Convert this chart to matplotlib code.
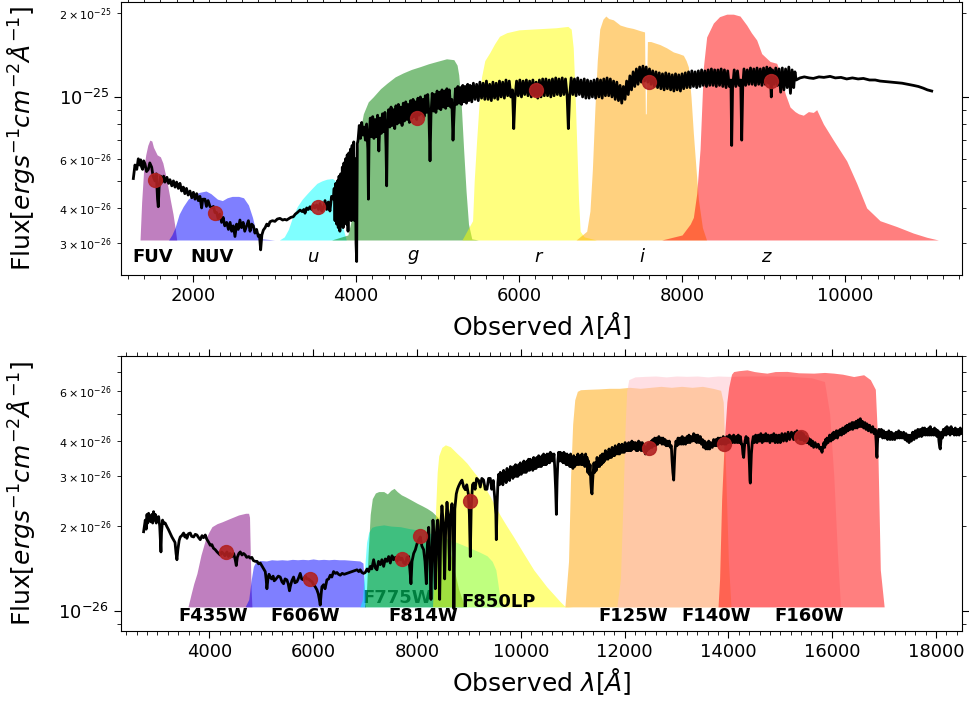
import matplotlib
matplotlib.use('Agg')
import matplotlib.pyplot as plt
from matplotlib.ticker import MultipleLocator, AutoMinorLocator
import numpy as np

# all fluxes in units of 1e-26 erg/s/cm^2/A
UNIT = 1e-26

# ---------------- top panel: GALEX + SDSS ----------------
top_spec_wave = [
    1268, 1288, 1310, 1329, 1345, 1358, 1370, 1382, 1395, 1411, 1430, 1452, 1470, 1493, 1510, 1533,
    1550, 1565, 1574, 1585, 1603, 1620, 1640, 1656, 1680, 1700, 1717, 1740, 1760, 1780, 1799, 1820,
    1840, 1860, 1881, 1900, 1920, 1940, 1963, 1985, 2005, 2025, 2045, 2065, 2085, 2106, 2120, 2147,
    2165, 2185, 2208, 2230, 2250, 2270, 2290, 2310, 2330, 2351, 2370, 2390, 2413, 2435, 2455, 2475,
    2495, 2515, 2535, 2555, 2576, 2595, 2615, 2635, 2658, 2680, 2700, 2720, 2740, 2760, 2780, 2801,
    2815, 2830, 2845, 2863, 2885, 2905, 2925, 2945, 2975, 3005, 3035, 3067, 3100, 3125, 3149, 3175,
    3200, 3231, 3255, 3280, 3313, 3340, 3360, 3374, 3395, 3415, 3435, 3455, 3475, 3495, 3517, 3540,
    3560, 3580, 3599, 3620, 3640, 3660, 3680, 3700, 3722, 3732, 3742, 3752, 3762, 3772, 3782, 3792,
    3802, 3812, 3822, 3832, 3842, 3852, 3862, 3872, 3882, 3892, 3902, 3912, 3922, 3932, 3942, 3952,
    3962, 3972, 3982, 3992, 4000, 4008, 4016, 4025, 4040, 4055, 4070, 4085, 4100, 4115, 4130, 4145,
    4152, 4160, 4175, 4190, 4205, 4220, 4235, 4250, 4265, 4280, 4295, 4310, 4325, 4340, 4355, 4368,
    4376, 4385, 4400, 4415, 4430, 4445, 4460, 4475, 4490, 4505, 4520, 4535, 4550, 4565, 4580, 4595,
    4610, 4625, 4640, 4655, 4670, 4685, 4700, 4715, 4730, 4745, 4760, 4775, 4790, 4805, 4820, 4835,
    4850, 4865, 4880, 4895, 4908, 4920, 4935, 4950, 4965, 4980, 4995, 5010, 5025, 5040, 5055, 5070,
    5085, 5100, 5115, 5130, 5145, 5160, 5175, 5190, 5205, 5220, 5235, 5250, 5265, 5280, 5295, 5310,
    5325, 5340, 5355, 5370, 5385, 5400, 5420, 5440, 5460, 5480, 5500, 5520, 5540, 5560, 5580, 5600,
    5620, 5640, 5660, 5680, 5700, 5720, 5740, 5760, 5780, 5800, 5820, 5840, 5860, 5880, 5900, 5920,
    5935, 5950, 5970, 5990, 6010, 6030, 6050, 6070, 6090, 6110, 6130, 6150, 6170, 6190, 6210, 6230,
    6250, 6270, 6290, 6310, 6330, 6350, 6370, 6390, 6410, 6430, 6450, 6470, 6490, 6510, 6530, 6550,
    6570, 6590, 6605, 6620, 6640, 6660, 6680, 6700, 6720, 6740, 6760, 6780, 6800, 6820, 6840, 6860,
    6880, 6900, 6920, 6940, 6960, 6980, 7000, 7020, 7040, 7060, 7080, 7100, 7120, 7140, 7160, 7180,
    7200, 7220, 7240, 7260, 7280, 7300, 7320, 7340, 7360, 7380, 7400, 7420, 7440, 7460, 7480, 7500,
    7520, 7540, 7560, 7580, 7600, 7620, 7640, 7660, 7680, 7700, 7720, 7740, 7760, 7780, 7800, 7820,
    7840, 7860, 7880, 7900, 7920, 7940, 7960, 7980, 8000, 8020, 8040, 8060, 8080, 8100, 8120, 8140,
    8160, 8180, 8200, 8220, 8240, 8260, 8280, 8300, 8320, 8340, 8360, 8380, 8400, 8420, 8440, 8460,
    8480, 8500, 8520, 8540, 8560, 8580, 8600, 8609, 8620, 8640, 8660, 8680, 8700, 8720, 8732, 8745,
    8760, 8780, 8800, 8820, 8840, 8860, 8880, 8900, 8920, 8940, 8960, 8980, 9000, 9020, 9040, 9060,
    9080, 9095, 9110, 9130, 9150, 9170, 9190, 9210, 9230, 9250, 9270, 9290, 9310, 9330, 9350, 9370,
    9385, 9400, 9447, 9500, 9560, 9611, 9680, 9740, 9816, 9880, 9950, 10020, 10090, 10160, 10225,
    10300, 10370, 10429, 10500, 10570, 10634, 10700, 10770, 10838, 10900, 10960, 11010, 11063,
]
top_spec_flux = [
    5.1, 5.7, 5.5, 6.0, 5.7, 5.95, 5.6, 5.5, 5.9, 5.75, 5.4, 5.5, 5.8, 5.6, 5.2, 5.0,
    5.3, 4.3, 4.04, 4.8, 5.2, 4.95, 5.2, 4.95, 5.15, 4.9, 5.05, 4.8, 5.0, 4.75, 4.95, 4.7,
    4.9, 4.6, 4.75, 4.5, 4.7, 4.45, 4.6, 4.35, 4.55, 4.3, 4.5, 4.25, 4.4, 4.0, 4.3, 4.3,
    4.05, 4.25, 4.05, 4.0, 4.05, 3.85, 3.85, 3.65, 3.8, 3.55, 3.7, 3.45, 3.55, 3.35, 3.55, 3.3,
    3.45, 3.16, 3.5, 3.35, 3.62, 3.4, 3.55, 3.3, 3.45, 3.6, 3.3, 3.5, 3.45, 3.25, 3.35, 3.16,
    3.2, 2.83, 3.2, 3.33, 3.4, 3.5, 3.45, 3.57, 3.6, 3.58, 3.65, 3.67, 3.62, 3.64, 3.62, 3.66,
    3.7, 3.72, 3.8, 3.85, 3.93, 3.88, 3.95, 3.83, 4.0, 3.95, 4.04, 3.95, 4.1, 4.0, 4.1, 3.95,
    4.15, 3.9, 4.0, 4.25, 3.95, 4.2, 3.9, 4.4, 4.3, 4.7, 3.6, 4.9, 3.5, 5.0, 3.4, 5.2,
    3.3, 5.3, 3.5, 5.6, 3.4, 5.8, 3.7, 6.0, 3.5, 6.2, 3.3, 6.3, 3.9, 6.5, 3.6, 6.7,
    4.2, 6.9, 3.6, 6.0, 3.0, 2.57, 6.8, 7.0, 7.9, 7.1, 8.1, 7.3, 7.8, 7.0, 8.0, 6.5,
    4.3, 7.0, 8.4, 7.2, 8.5, 7.1, 8.3, 7.2, 8.6, 6.4, 8.4, 7.4, 8.7, 7.5, 8.8, 6.6,
    4.8, 7.7, 9.0, 7.8, 9.2, 7.9, 9.0, 7.7, 9.3, 8.0, 9.4, 8.1, 9.2, 7.9, 9.5, 8.2,
    9.6, 8.3, 9.4, 8.1, 9.7, 8.4, 9.8, 8.5, 9.6, 8.3, 9.9, 8.6, 10.0, 8.7, 9.8, 8.5,
    10.1, 8.8, 10.2, 8.6, 5.9, 8.7, 10.3, 8.9, 10.2, 8.8, 10.5, 9.1, 10.4, 9.0, 10.6, 9.2,
    10.5, 9.1, 10.7, 9.3, 10.6, 9.2, 9.8, 7.0, 9.0, 10.7, 9.4, 10.9, 9.5, 10.8, 9.4, 11.0,
    9.6, 10.9, 9.5, 11.1, 9.7, 11.0, 9.6, 11.2, 9.8, 11.1, 9.7, 11.3, 9.9, 11.2, 9.8, 11.4,
    9.8, 11.1, 9.7, 11.3, 9.9, 11.2, 9.8, 11.4, 10.0, 11.3, 9.9, 11.5, 10.1, 11.4, 10.0, 10.6,
    7.7, 9.9, 11.4, 10.1, 11.5, 10.0, 11.4, 10.2, 11.5, 10.1, 11.4, 10.0, 11.5, 10.1, 11.3, 9.9,
    11.5, 10.0, 11.6, 10.1, 11.6, 10.1, 11.5, 10.0, 11.6, 10.1, 11.7, 10.2, 11.6, 10.1, 11.7, 10.2,
    11.6, 10.1, 7.7, 10.0, 11.7, 10.2, 11.6, 10.1, 11.7, 10.2, 11.5, 10.0, 11.6, 9.9, 11.5, 9.9,
    11.4, 10.0, 11.5, 9.9, 11.6, 10.0, 11.5, 9.9, 11.6, 10.1, 11.7, 10.1, 11.6, 10.0, 11.4, 9.8,
    11.3, 9.7, 11.0, 9.5, 10.9, 9.8, 11.4, 10.2, 11.9, 10.6, 12.3, 10.9, 12.6, 11.1, 12.8, 11.3,
    12.9, 11.4, 12.8, 11.3, 12.6, 11.1, 12.4, 10.9, 12.3, 10.8, 12.2, 10.7, 12.1, 10.6, 12.2, 10.7,
    12.1, 10.6, 12.0, 10.5, 12.1, 10.6, 12.0, 10.5, 12.1, 10.7, 12.2, 10.8, 12.3, 10.8, 12.4, 10.9,
    12.3, 10.8, 12.4, 10.9, 12.5, 11.0, 12.4, 10.9, 12.5, 11.0, 12.6, 11.0, 12.5, 10.9, 12.5, 11.0,
    12.6, 10.9, 12.5, 10.8, 12.4, 10.9, 11.5, 6.7, 10.8, 12.5, 10.9, 12.4, 11.0, 11.5, 7.0, 11.0,
    12.6, 11.0, 12.5, 11.1, 12.7, 11.1, 12.6, 11.0, 12.7, 11.1, 12.6, 11.0, 12.7, 11.1, 12.8, 11.2,
    12.7, 10.0, 12.5, 11.1, 12.7, 11.0, 12.6, 10.4, 12.7, 10.6, 12.6, 10.8, 12.8, 10.3, 12.5, 10.8,
    12.3, 11.5, 11.7, 11.8, 11.7, 11.65, 11.8, 11.75, 11.85, 11.7, 11.75, 11.6, 11.7, 11.6, 11.65,
    11.5, 11.5, 11.4, 11.35, 11.3, 11.25, 11.2, 11.1, 11.0, 10.9, 10.75, 10.6, 10.5,
]

fuv_wave = [1350, 1370, 1395, 1420, 1445, 1470, 1495, 1515, 1560, 1600, 1630, 1660, 1690, 1720, 1755, 1780, 1800]
fuv_flux = [3.07, 4.2, 5.5, 6.2, 6.7, 7.0, 6.95, 6.6, 6.2, 6.1, 5.8, 5.3, 4.8, 4.3, 3.8, 3.4, 3.07]
nuv_wave = [1700, 1740, 1780, 1830, 1880, 1940, 2000, 2080, 2160, 2220, 2300, 2360, 2420, 2480,
            2560, 2620, 2680, 2730, 2770, 2800, 2850, 3000]
nuv_flux = [3.07, 3.2, 3.4, 3.8, 4.05, 4.3, 4.45, 4.55, 4.6, 4.5, 4.3, 4.25, 4.35, 4.4,
            4.4, 4.35, 4.1, 3.7, 3.3, 3.15, 3.1, 3.07]
u_wave = [3060, 3120, 3170, 3220, 3280, 3340, 3400, 3460, 3520, 3580, 3640, 3710, 3750, 3780, 3810, 3840, 3880]
u_flux = [3.07, 3.15, 3.35, 3.7, 4.05, 4.3, 4.5, 4.7, 4.9, 5.0, 5.07, 5.1, 5.0, 4.7, 4.0, 3.4, 3.07]
g_wave = [3700, 3900, 3960, 3990, 4030, 4090, 4150, 4210, 4300, 4380, 4480, 4580, 4680, 4790,
          4890, 4990, 5110, 5200, 5240, 5260, 5290, 5320, 5350, 5380, 5420, 5500]
g_flux = [3.07, 3.2, 3.8, 5.3, 7.0, 8.7, 9.6, 10.0, 10.7, 11.2, 11.8, 12.2, 12.55, 12.85,
          13.15, 13.4, 13.7, 13.6, 13.0, 12.0, 9.5, 6.5, 4.6, 3.5, 3.1, 3.07]
r_wave = [5300, 5430, 5450, 5480, 5510, 5540, 5580, 5640, 5700, 5760, 5850, 6000, 6150, 6300,
          6450, 6600, 6640, 6665, 6690, 6710, 6730, 6750, 6800, 6950]
r_flux = [3.07, 3.6, 5.0, 7.0, 9.5, 11.8, 13.5, 14.4, 15.5, 16.5, 17.0, 17.4, 17.5, 17.6,
          17.7, 17.9, 17.5, 15.0, 9.8, 6.5, 4.3, 3.3, 3.15, 3.07]
i_wave = [6700, 6830, 6870, 6900, 6930, 6960, 6990, 7030, 7065, 7100, 7157, 7240, 7320, 7400,
          7480, 7540, 7550, 7560, 7575, 7615, 7730, 7810, 7893, 7960, 8016, 8050, 8078, 8110,
          8139, 8170, 8200, 8250, 8300]
i_flux = [3.07, 3.3, 3.9, 5.5, 9.0, 13.5, 17.5, 19.0, 19.5, 19.1, 18.9, 18.1, 17.8, 17.6,
          17.3, 17.1, 8.7, 8.7, 15.8, 15.8, 15.4, 15.0, 14.5, 14.3, 14.1, 13.5, 12.8, 10.0,
          7.4, 5.6, 4.3, 3.4, 3.07]
z_wave = [7750, 8000, 8100, 8139, 8180, 8221, 8262, 8302, 8384, 8460, 8548, 8630, 8711, 8793,
          8850, 8916, 8977, 9080, 9161, 9223, 9264, 9325, 9386, 9430, 9488, 9550, 9610, 9652,
          9734, 9857, 10020, 10143, 10265, 10429, 10634, 10838, 11002, 11145]
z_flux = [3.07, 3.2, 3.5, 3.7, 4.5, 6.5, 12.8, 16.4, 18.4, 19.4, 19.8, 19.8, 19.5, 18.1,
          17.0, 16.0, 14.3, 13.4, 13.2, 11.8, 10.3, 9.2, 8.86, 8.7, 8.6, 8.86, 8.8, 9.0,
          8.0, 7.0, 5.9, 4.9, 4.0, 3.6, 3.43, 3.25, 3.14, 3.07]

top_filter_colors = ['purple', 'blue', 'cyan', 'green', 'yellow', 'orange', 'red']
top_label_text = ['FUV', 'NUV', '$u$', '$g$', '$r$', '$i$', '$z$']
top_label_wave = [1509, 2233, 3472, 4699, 6245, 7509, 9043]
top_label_weight = ['bold', 'bold', 'normal', 'normal', 'normal', 'normal', 'normal']
top_phot_wave = [1534, 2270, 3534, 4748, 6209, 7595, 9092]
top_phot_flux = [5.04, 3.84, 4.03, 8.41, 10.6, 11.3, 11.4]

# ---------------- bottom panel: HST ----------------
bot_spec_wave = [
    2735, 2750, 2767, 2785, 2800, 2815, 2831, 2850, 2876, 2895, 2910, 2927, 2945, 2960, 2979, 3000,
    3024, 3045, 3060, 3069, 3080, 3100, 3120, 3150, 3184, 3210, 3248, 3280, 3313, 3340, 3360, 3377,
    3395, 3420, 3441, 3470, 3505, 3530, 3550, 3569, 3600, 3634, 3660, 3698, 3730, 3762, 3795, 3826,
    3860, 3890, 3923, 3950, 3990, 4019, 4050, 4080, 4115, 4150, 4180, 4211, 4240, 4270, 4300, 4340,
    4370, 4400, 4436, 4470, 4500, 4520, 4540, 4570, 4597, 4630, 4660, 4693, 4720, 4760, 4789, 4820,
    4850, 4886, 4920, 4950, 4982, 5010, 5040, 5078, 5095, 5110, 5130, 5150, 5174, 5200, 5230, 5250,
    5271, 5300, 5330, 5367, 5400, 5431, 5460, 5495, 5520, 5545, 5560, 5590, 5624, 5650, 5688, 5720,
    5752, 5780, 5816, 5850, 5880, 5913, 5950, 5980, 6009, 6040, 6073, 6100, 6120, 6137, 6155, 6170,
    6202, 6230, 6266, 6300, 6330, 6360, 6394, 6430, 6460, 6490, 6523, 6560, 6600, 6651, 6700, 6750,
    6800, 6845, 6880, 6908, 6940, 6973, 7004, 7040, 7070, 7102, 7130, 7166, 7200, 7230, 7260, 7295,
    7325, 7359, 7390, 7423, 7455, 7487, 7520, 7551, 7585, 7616, 7650, 7680, 7710, 7745, 7776, 7810,
    7840, 7865, 7885, 7905, 7937, 7970, 8001, 8030, 8065, 8095, 8129, 8155, 8181, 8200, 8226, 8250,
    8271, 8290, 8309, 8330, 8354, 8375, 8399, 8420, 8438, 8460, 8482, 8510, 8534, 8555, 8579, 8605,
    8630, 8650, 8675, 8700, 8712, 8730, 8758, 8780, 8803, 8835, 8868, 8900, 8932, 8960, 8990, 9010,
    9028, 9045, 9070, 9092, 9120, 9150, 9189, 9220, 9250, 9285, 9315, 9349, 9380, 9413, 9440, 9470,
    9500, 9520, 9529, 9545, 9560, 9575, 9590, 9606, 9620, 9639, 9655, 9670, 9685, 9700, 9718, 9736,
    9752, 9770, 9785, 9800, 9815, 9830, 9848, 9864, 9880, 9900, 9915, 9930, 9945, 9960, 9975, 9992,
    10010, 10030, 10045, 10060, 10075, 10090, 10105, 10121, 10135, 10150, 10168, 10185, 10200, 10215,
    10232, 10249, 10265, 10280, 10295, 10310, 10328, 10345, 10360, 10378, 10395, 10410, 10425, 10440,
    10458, 10475, 10490, 10506, 10522, 10540, 10555, 10570, 10586, 10602, 10620, 10640, 10655, 10672,
    10686, 10700, 10715, 10730, 10746, 10763, 10780, 10800, 10815, 10830, 10845, 10860, 10875, 10891,
    10910, 10930, 10945, 10960, 10975, 10990, 11005, 11020, 11040, 11060, 11080, 11100, 11120, 11148,
    11165, 11180, 11200, 11220, 11235, 11250, 11265, 11276, 11290, 11305, 11320, 11335, 11350, 11362,
    11373, 11385, 11395, 11410, 11425, 11437, 11455, 11470, 11485, 11500, 11518, 11533, 11550, 11570,
    11585, 11600, 11615, 11630, 11645, 11662, 11680, 11700, 11715, 11730, 11745, 11760, 11775, 11790,
    11805, 11820, 11840, 11860, 11875, 11890, 11905, 11918, 11935, 11950, 11965, 11980, 11995, 12010,
    12028, 12047, 12062, 12080, 12095, 12110, 12125, 12140, 12158, 12175, 12192, 12210, 12225, 12240,
    12255, 12270, 12285, 12303, 12320, 12340, 12360, 12380, 12400, 12415, 12432, 12450, 12470, 12485,
    12500, 12515, 12530, 12545, 12560, 12580, 12600, 12620, 12640, 12660, 12689, 12705, 12720, 12740,
    12760, 12780, 12800, 12817, 12835, 12860, 12880, 12900, 12915, 12930, 12946, 12958, 12970, 12990,
    13010, 13030, 13050, 13074, 13090, 13110, 13130, 13150, 13175, 13202, 13220, 13240, 13260, 13280,
    13305, 13331, 13350, 13370, 13390, 13410, 13435, 13459, 13480, 13500, 13520, 13540, 13565, 13588,
    13605, 13620, 13640, 13660, 13690, 13716, 13740, 13760, 13780, 13800, 13820, 13844, 13870, 13900,
    13920, 13940, 13955, 13973, 13995, 14020, 14040, 14060, 14080, 14101, 14125, 14150, 14170, 14190,
    14210, 14230, 14250, 14265, 14280, 14294, 14308, 14320, 14340, 14360, 14375, 14390, 14405, 14415,
    14422, 14430, 14442, 14460, 14480, 14500, 14525, 14551, 14575, 14600, 14625, 14650, 14675, 14700,
    14720, 14743, 14770, 14800, 14825, 14850, 14875, 14900, 14925, 14950, 14975, 15000, 15030, 15060,
    15090, 15120, 15150, 15180, 15215, 15257, 15280, 15300, 15320, 15340, 15360, 15385, 15400, 15420,
    15440, 15460, 15490, 15514, 15540, 15560, 15580, 15600, 15620, 15642, 15670, 15700, 15730, 15760,
    15780, 15803, 15820, 15840, 15855, 15870, 15885, 15899, 15920, 15950, 15975, 16000, 16015, 16027,
    16050, 16080, 16100, 16120, 16140, 16156, 16180, 16200, 16225, 16250, 16265, 16284, 16305, 16330,
    16350, 16380, 16395, 16413, 16440, 16460, 16480, 16500, 16520, 16541, 16560, 16580, 16605, 16630,
    16650, 16670, 16695, 16720, 16750, 16780, 16805, 16830, 16845, 16855, 16862, 16870, 16880, 16900,
    16920, 16945, 16970, 16990, 17015, 17040, 17065, 17090, 17115, 17140, 17160, 17183, 17205, 17230,
    17255, 17280, 17300, 17320, 17345, 17375, 17400, 17420, 17440, 17460, 17480, 17504, 17525, 17550,
    17575, 17600, 17625, 17650, 17670, 17696, 17720, 17740, 17760, 17780, 17800, 17820, 17840, 17860,
    17875, 17889, 17910, 17930, 17950, 17970, 17985, 18000, 18020, 18040, 18055, 18070, 18081, 18092,
    18100, 18120, 18140, 18160, 18180, 18195, 18210, 18230, 18250, 18270, 18290, 18310, 18330, 18350,
    18370, 18395, 18420, 18445, 18467, 18490, 18520,
]
bot_spec_flux = [
    1.91, 2.0, 2.1, 1.95, 2.2, 2.05, 2.22, 2.1, 2.07, 2.2, 2.05, 2.25, 2.1, 2.2, 2.05, 2.15,
    2.16, 2.0, 1.75, 1.62, 1.9, 2.1, 2.05, 2.05, 1.99, 1.95, 1.886, 1.83, 1.786, 1.75, 1.6, 1.52,
    1.65, 1.78, 1.83, 1.85, 1.89, 1.83, 1.86, 1.81, 1.88, 1.89, 1.84, 1.83, 1.87, 1.86, 1.82, 1.79,
    1.85, 1.82, 1.86, 1.8, 1.75, 1.71, 1.72, 1.67, 1.65, 1.62, 1.6, 1.58, 1.62, 1.6, 1.57, 1.62,
    1.56, 1.6, 1.56, 1.6, 1.52, 1.45, 1.55, 1.6, 1.62, 1.58, 1.6, 1.58, 1.55, 1.56, 1.54, 1.55,
    1.51, 1.50, 1.5, 1.47, 1.48, 1.45, 1.42, 1.38, 1.3, 1.2, 1.3, 1.35, 1.32, 1.3, 1.33, 1.28,
    1.29, 1.31, 1.33, 1.32, 1.27, 1.25, 1.3, 1.29, 1.25, 1.18, 1.22, 1.28, 1.32, 1.26, 1.27, 1.31,
    1.36, 1.3, 1.29, 1.33, 1.3, 1.3, 1.28, 1.27, 1.24, 1.22, 1.19, 1.15, 1.1, 1.05, 1.15, 1.22,
    1.24, 1.2, 1.29, 1.3, 1.34, 1.32, 1.38, 1.36, 1.37, 1.35, 1.34, 1.36, 1.35, 1.36, 1.37, 1.38,
    1.39, 1.40, 1.38, 1.40, 1.37, 1.36, 1.37, 1.41, 1.38, 1.44, 1.41, 1.52, 1.42, 1.40, 1.50, 1.46,
    1.52, 1.44, 1.53, 1.5, 1.56, 1.48, 1.57, 1.52, 1.55, 1.50, 1.56, 1.52, 1.54, 1.48, 1.47, 1.55,
    1.56, 1.4, 1.25, 1.5, 1.6, 1.65, 1.73, 1.78, 1.83, 1.7, 1.65, 1.5, 1.25, 1.7, 1.98, 1.5,
    1.1, 1.6, 2.1, 1.8, 1.2, 1.9, 2.1, 1.6, 1.1, 2.0, 2.36, 2.0, 1.3, 2.0, 2.43, 2.1,
    1.4, 2.2, 2.4, 2.0, 1.02, 2.3, 2.6, 2.7, 2.77, 2.85, 2.91, 2.75, 2.69, 2.8, 2.6, 2.2,
    1.56, 2.3, 2.8, 2.84, 2.7, 2.95, 2.9, 2.75, 2.95, 2.91, 2.7, 2.7, 2.95, 2.95, 2.7, 2.9,
    2.5, 2.2, 1.79, 2.4, 2.85, 3.05, 2.8, 3.1, 2.85, 3.05, 2.8, 3.15, 2.9, 3.1, 2.85, 3.2,
    2.95, 3.15, 2.9, 3.25, 3.0, 3.2, 2.95, 3.25, 3.0, 3.3, 3.0, 3.25, 3.0, 3.3, 3.05, 3.35,
    3.05, 3.3, 3.1, 3.4, 3.1, 3.35, 3.1, 3.4, 3.15, 3.45, 3.15, 3.45, 3.2, 3.4,
    3.15, 3.5, 3.2, 3.45, 3.2, 3.5, 3.25, 3.55, 3.25, 3.5, 3.25, 3.55, 3.3, 3.6,
    3.3, 3.55, 3.3, 3.6, 3.35, 3.6, 3.35, 3.65, 3.4, 3.6, 3.4, 3.6, 3.2, 2.7,
    2.2, 2.9, 3.4, 3.65, 3.4, 3.65, 3.4, 3.6, 3.35, 3.65, 3.35, 3.6, 3.3, 3.6,
    3.3, 3.55, 3.25, 3.6, 3.25, 3.5, 3.2, 3.55, 3.25, 3.5, 3.3, 3.6, 3.3, 3.55,
    3.3, 3.6, 3.3, 3.5, 3.25, 3.6, 3.3, 3.5, 3.1, 3.4, 3.05, 3.3, 2.85, 2.65,
    2.6, 2.9, 3.1, 3.35, 3.1, 3.35, 3.15, 3.5, 3.25, 3.45, 3.25, 3.55, 3.3, 3.6,
    3.35, 3.6, 3.4, 3.7, 3.45, 3.65, 3.45, 3.75, 3.5, 3.7, 3.5, 3.8, 3.55, 3.75,
    3.55, 3.85, 3.6, 3.8, 3.6, 3.9, 3.6, 3.85, 3.65, 3.9, 3.65, 3.85, 3.65, 3.95,
    3.7, 3.9, 3.7, 3.95, 3.7, 3.9, 3.7, 4.0, 3.75, 3.95, 3.75, 3.95, 3.7, 3.9,
    3.7, 4.0, 3.75, 3.95, 3.7, 3.95, 3.7, 3.85, 3.6, 3.8, 3.7, 3.9, 3.75, 3.95,
    3.8, 4.0, 3.8, 4.05, 3.85, 4.1, 3.85, 4.1, 3.9, 4.15, 3.95, 4.1, 3.9, 4.1,
    3.9, 4.05, 3.85, 4.0, 3.85, 4.0, 3.8, 3.85, 3.4, 3.1, 2.91, 3.3, 3.7, 4.0,
    3.85, 4.1, 3.9, 4.1, 3.9, 4.15, 3.9, 4.1, 3.9, 4.15, 3.95, 4.2, 3.95, 4.15,
    4.0, 4.25, 4.0, 4.2, 3.95, 4.2, 3.95, 4.15, 3.9, 4.05, 3.8, 4.0, 3.75, 3.95,
    3.75, 4.0, 3.75, 3.95, 3.8, 4.05, 3.85, 4.05, 3.85, 4.1, 3.9, 4.1, 3.9, 4.15,
    3.9, 4.1, 3.9, 4.15, 3.95, 4.2, 3.95, 4.15, 3.95, 4.2, 3.95, 4.15, 3.95, 4.2,
    3.95, 4.15, 3.9, 3.9, 3.6, 3.5, 3.8, 4.0, 4.15, 3.95, 4.1, 3.8, 3.3, 2.9,
    2.84, 3.1, 3.6, 3.95, 4.15, 3.95, 4.2, 3.95, 4.2, 4.0, 4.25, 3.95, 4.2, 4.0,
    4.25, 4.0, 4.2, 3.95, 4.2, 4.0, 4.25, 3.95, 4.2, 3.95, 4.2, 3.95, 4.25, 4.0,
    4.25, 4.0, 4.3, 4.05, 4.3, 4.05, 4.3, 4.05, 4.35, 4.1, 4.3, 4.05, 4.3, 4.05,
    4.25, 4.0, 4.15, 3.95, 4.1, 3.9, 4.05, 3.85, 4.0, 3.8, 3.95, 3.8, 3.9, 3.75,
    3.8, 3.65, 3.8, 3.95, 3.8, 4.05, 3.9, 4.1, 3.95, 4.2, 4.0, 4.25, 4.05, 4.3,
    4.1, 4.35, 4.1, 4.35, 4.2, 4.4, 4.2, 4.45, 4.25, 4.5, 4.3, 4.55, 4.35, 4.6,
    4.4, 4.65, 4.4, 4.65, 4.45, 4.7, 4.45, 4.75, 4.5, 4.8, 4.5, 4.7, 4.45, 4.65,
    4.4, 4.6, 4.35, 4.55, 4.3, 4.5, 4.25, 4.4, 4.0, 3.6, 3.5, 3.9, 4.2, 4.4,
    4.15, 4.4, 4.1, 4.35, 4.1, 4.3, 4.05, 4.35, 4.05, 4.3, 4.05, 4.25, 4.05, 4.3,
    4.1, 4.35, 4.1, 4.3, 4.1, 4.3, 4.05, 4.25, 4.0, 4.2, 3.95, 4.2, 4.0, 4.3,
    4.05, 4.35, 4.1, 4.4, 4.15, 4.4, 4.15, 4.45, 4.2, 4.45, 4.2, 4.4, 4.2, 4.45,
    4.2, 4.5, 4.2, 4.4, 4.2, 4.45, 4.2, 4.4, 4.15, 4.35, 4.0, 3.8, 3.75, 4.0,
    4.3, 4.1, 4.4, 4.2, 4.45, 4.2, 4.5, 4.25, 4.45, 4.2, 4.5, 4.25, 4.4, 4.2,
    4.45, 4.2, 4.4, 4.2, 4.45, 4.25, 4.4,
]

f435w_wave = [3590, 3650, 3700, 3762, 3840, 3923, 3990, 4051, 4150, 4244, 4404, 4565, 4700, 4757, 4775, 4790, 4805, 4821]
f435w_flux = [1.035, 1.15, 1.25, 1.36, 1.58, 1.786, 1.9, 1.99, 2.04, 2.07, 2.13, 2.19, 2.22, 2.22, 2.15, 1.6, 1.2, 1.035]
f606w_wave = [4690, 4760, 4810, 4850, 4900, 5000, 5100, 5200, 5300, 5400, 5500, 5600, 5700, 5800,
              5900, 6000, 6100, 6200, 6300, 6400, 6500, 6600, 6700, 6800, 6900, 6960, 6990, 7010]
f606w_flux = [1.035, 1.1, 1.3, 1.44, 1.50, 1.51, 1.505, 1.52, 1.515, 1.52, 1.515, 1.525, 1.52, 1.525,
              1.52, 1.53, 1.52, 1.525, 1.52, 1.525, 1.52, 1.52, 1.515, 1.51, 1.505, 1.48, 1.2, 1.035]
f814w_wave = [6900, 6950, 6990, 7030, 7070, 7130, 7200, 7360, 7500, 7680, 7850, 8000, 8200, 8400,
              8600, 8800, 9000, 9200, 9350, 9450, 9520, 9560, 9600, 9640]
f814w_flux = [1.035, 1.1, 1.4, 1.75, 1.9, 1.98, 2.0, 2.02, 2.0, 1.99, 1.96, 1.94, 1.9, 1.85,
              1.8, 1.74, 1.68, 1.62, 1.57, 1.5, 1.4, 1.25, 1.1, 1.035]
f775w_wave = [6990, 7030, 7060, 7100, 7140, 7200, 7263, 7360, 7430, 7500, 7560, 7620, 7700, 7776,
              7880, 8001, 8100, 8194, 8290, 8400, 8500, 8600, 8700, 8800, 8900, 8950]
f775w_flux = [1.035, 1.2, 1.6, 2.2, 2.5, 2.62, 2.65, 2.65, 2.6, 2.68, 2.72, 2.65, 2.58, 2.54,
              2.48, 2.41, 2.36, 2.31, 2.25, 2.15, 2.0, 1.75, 1.45, 1.2, 1.06, 1.035]
f850lp_wave = [8300, 8330, 8360, 8390, 8420, 8480, 8547, 8643, 8771, 8870, 8964, 9100, 9221, 9320,
               9413, 9510, 9606, 9730, 9863, 10055, 10250, 10500, 10760, 10850, 11000]
f850lp_flux = [1.035, 1.4, 2.3, 3.1, 3.55, 3.8, 3.88, 3.82, 3.62, 3.48, 3.34, 3.1, 2.91, 2.72,
               2.54, 2.35, 2.18, 2.0, 1.83, 1.6, 1.4, 1.22, 1.08, 1.04, 1.035]
f125w_wave = [10850, 10920, 10960, 11000, 11040, 11090, 11150, 11300, 11500, 11700, 11900, 12100,
              12300, 12500, 12700, 12900, 13100, 13300, 13500, 13700, 13850, 13900, 13950, 14000, 14050]
f125w_flux = [1.035, 1.5, 3.0, 4.6, 5.6, 6.0, 6.08, 6.1, 6.12, 6.15, 6.15, 6.2,
              6.15, 6.2, 6.25, 6.2, 6.25, 6.2, 6.25, 6.15, 6.05, 5.5, 3.0, 1.5, 1.035]
f140w_wave = [11850, 11920, 11970, 12010, 12040, 12080, 12200, 12400, 12600, 12800, 13000, 13200,
              13400, 13600, 13800, 14000, 14400, 14800, 15200, 15600, 15850, 15950, 16030, 16100, 16160]
f140w_flux = [1.035, 1.3, 2.5, 4.5, 6.0, 6.6, 6.75, 6.78, 6.8, 6.75, 6.8, 6.78,
              6.8, 6.75, 6.8, 6.78, 6.8, 6.8, 6.78, 6.7, 6.5, 5.0, 3.0, 1.6, 1.035]
f160w_wave = [13800, 13830, 13870, 13920, 13970, 14005, 14060, 14101, 14200, 14358, 14500, 14620,
              14743, 14900, 15129, 15350, 15642, 15850, 16027, 16200, 16413, 16605, 16734, 16830,
              16875, 16926, 17000]
f160w_flux = [1.035, 1.3, 2.5, 4.0, 5.5, 6.2, 6.9, 7.05, 7.1, 7.15, 7.05, 7.0,
              6.96, 7.05, 7.06, 6.98, 6.96, 7.0, 6.96, 6.9, 6.77, 6.87, 6.6, 6.1,
              4.0, 1.4, 1.035]

bot_filter_colors = ['purple', 'blue', 'cyan', 'green', 'yellow', 'orange', 'pink', 'red']
bot_label_text = ['F435W', 'F606W', 'F775W', 'F814W', 'F850LP', 'F125W', 'F140W', 'F160W']
bot_label_wave = [4067, 5850, 7622, 8113, 9574, 12175, 13761, 15559]
bot_label_flux = [0.96, 0.96, 1.112, 0.96, 1.076, 0.96, 0.96, 0.96]
bot_phot_wave = [4328, 5933, 7713, 8052, 9016, 12478, 13923, 15401]
bot_phot_flux = [1.62, 1.30, 1.53, 1.85, 2.45, 3.78, 3.91, 4.13]

top_curves = [(fuv_wave, fuv_flux), (nuv_wave, nuv_flux), (u_wave, u_flux), (g_wave, g_flux),
              (r_wave, r_flux), (i_wave, i_flux), (z_wave, z_flux)]
bot_curves = [(f435w_wave, f435w_flux), (f606w_wave, f606w_flux), (f814w_wave, f814w_flux),
              (f775w_wave, f775w_flux), (f850lp_wave, f850lp_flux), (f125w_wave, f125w_flux),
              (f140w_wave, f140w_flux), (f160w_wave, f160w_flux)]

TOP_BASE = 3.07
BOT_BASE = 1.035
DOT_COLOR = '#b22222'


def style_axis(ax, xlim, ylim):
    ax.set_yscale('log')
    ax.set_xlim(*xlim)
    ax.set_ylim(ylim[0] * UNIT, ylim[1] * UNIT)
    ax.xaxis.set_major_locator(MultipleLocator(2000))
    ax.xaxis.set_minor_locator(AutoMinorLocator(10))
    ax.tick_params(which='both', direction='out', top=True, right=True)
    ax.tick_params(which='major', length=5, labelsize=13)
    ax.tick_params(which='minor', length=3)
    ax.tick_params(axis='y', which='minor', labelsize=8)
    ax.set_xlabel(r'Observed $\lambda[\AA]$', fontsize=18)
    ax.set_ylabel(r'Flux$[ergs^{-1}cm^{-2}\AA^{-1}]$', fontsize=18)
    ax.yaxis.set_label_coords(-0.10, 0.5)


fig = plt.figure(figsize=(9.69, 7.02), dpi=100)
ax1 = fig.add_axes([0.1249, 0.6083, 0.8679, 0.3889])
ax2 = fig.add_axes([0.1249, 0.1011, 0.8679, 0.3917])

# top panel
for (wave, flux), color in zip(top_curves, top_filter_colors):
    ax1.fill_between(wave, TOP_BASE * UNIT, np.array(flux) * UNIT, color=color, alpha=0.5,
                     linewidth=0, zorder=2)
ax1.plot(top_spec_wave, np.array(top_spec_flux) * UNIT, color='black', lw=2.0, zorder=3)
ax1.plot(top_phot_wave, np.array(top_phot_flux) * UNIT, 'o', color=DOT_COLOR, ms=10, alpha=0.9,
         zorder=4)
for text, wave, weight in zip(top_label_text, top_label_wave, top_label_weight):
    ax1.text(wave, 2.67 * UNIT, text, fontsize=13, fontweight=weight, ha='center', va='center',
             zorder=1)
style_axis(ax1, (1117, 11435), (2.30, 21.9))

# bottom panel
for (wave, flux), color in zip(bot_curves, bot_filter_colors):
    ax2.fill_between(wave, BOT_BASE * UNIT, np.array(flux) * UNIT, color=color, alpha=0.5,
                     linewidth=0, zorder=2)
ax2.plot(bot_spec_wave, np.array(bot_spec_flux) * UNIT, color='black', lw=2.0, zorder=3)
ax2.plot(bot_phot_wave, np.array(bot_phot_flux) * UNIT, 'o', color=DOT_COLOR, ms=10, alpha=0.9,
         zorder=4)
for text, wave, flux in zip(bot_label_text, bot_label_wave, bot_label_flux):
    # F775W sits under the filter fills, F850LP stays on top
    z = 2.5 if text == 'F850LP' else 1
    ax2.text(wave, flux * UNIT, text, fontsize=13, fontweight='bold', ha='center', va='center',
             zorder=z)
style_axis(ax2, (2300, 18500), (0.85, 8.0))

fig.savefig('out.png', dpi=100)
